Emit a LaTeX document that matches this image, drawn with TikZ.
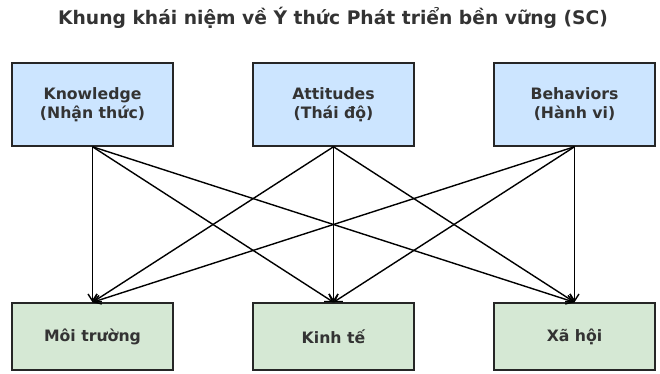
\documentclass[tikz,border=0pt]{standalone}
\usepackage{fontspec}
\setmainfont{DejaVu Sans}
\usetikzlibrary{arrows.meta}
\begin{document}
\begin{tikzpicture}[x=1pt,y=-1pt,
  topbox/.style={draw=black!85,line width=1.5pt,fill={rgb,255:red,204;green,229;blue,255},minimum width=161pt,minimum height=83pt,align=center,font=\bfseries\fontsize{15.7}{19}\selectfont,text=black!80},
  botbox/.style={draw=black!85,line width=1.5pt,fill={rgb,255:red,213;green,232;blue,212},minimum width=161pt,minimum height=67pt,align=center,font=\bfseries\fontsize{15.7}{19}\selectfont,text=black!80},
  conn/.style={line width=1.4pt,-{Straight Barb[length=7pt,width=9pt]}}]
\useasboundingbox (0,0) rectangle (660,374);
\node[font=\bfseries\fontsize{18.7}{22}\selectfont,text=black!80] (title) at (333,18) {Khung khái niệm về Ý thức Phát triển bền vững (SC)};
\node[topbox] (k) at (92.5,104.5) {Knowledge\\(Nhận thức)};
\node[topbox] (a) at (333.5,104.5) {Attitudes\\(Thái độ)};
\node[topbox] (b) at (574.5,104.5) {Behaviors\\(Hành vi)};
\node[botbox] (m) at (92.5,336.5) {Môi trường};
\node[botbox] (e) at (333.5,336.5) {Kinh tế};
\node[botbox] (s) at (574.5,336.5) {Xã hội};
\foreach \u in {k,a,b}{
  \foreach \v in {m,e,s}{
    \draw[conn] (\u.south) -- (\v.north);
  }
}
\end{tikzpicture}
\end{document}
